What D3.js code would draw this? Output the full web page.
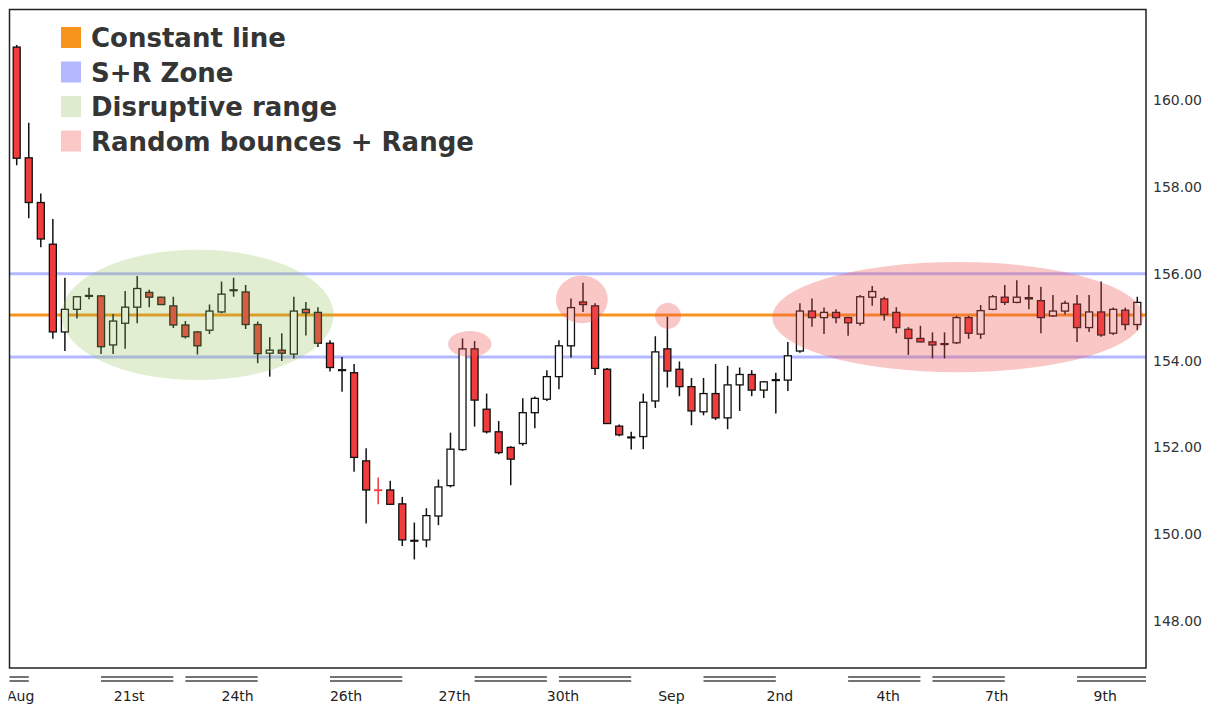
<!DOCTYPE html>
<html>
<head>
<meta charset="utf-8">
<script src="https://cdn.jsdelivr.net/npm/d3@7"></script>
<style>
  body { margin: 0; background: #fff; }
  svg text { font-family: "DejaVu Sans", sans-serif; }
</style>
</head>
<body>
<script>
// OHLC values, one per candle
var opens = [161.22,158.67,157.64,156.68,154.66,155.18,155.48,155.49,154.36,154.86,
  155.23,155.57,155.46,155.26,154.82,154.66,154.70,155.12,155.61,155.58,
  154.83,154.17,154.24,154.15,155.18,155.11,154.40,153.77,153.72,151.69,
  151.02,151.02,150.70,149.84,149.87,150.42,151.12,151.95,154.27,152.88,
  152.36,152.00,152.09,152.80,153.11,153.63,154.34,155.35,155.26,153.80,
  152.49,152.22,152.25,153.07,154.27,153.80,153.40,152.82,153.24,152.68,
  153.44,153.68,153.32,153.54,153.55,154.22,155.14,154.99,155.11,154.99,
  154.86,155.46,155.42,155.11,154.72,154.51,154.43,154.37,154.41,154.99,
  154.61,155.18,155.46,155.34,155.45,155.38,155.03,155.14,155.30,154.76,
  155.12,154.63,155.16,154.83];
var highs = [161.27,159.48,157.85,157.26,155.91,155.49,155.68,155.51,155.07,155.60,
  155.95,155.63,155.47,155.47,154.91,154.68,155.29,155.82,155.91,155.74,
  154.90,154.54,154.63,155.47,155.35,155.23,154.47,154.08,153.92,151.98,
  151.31,151.23,150.86,150.27,150.60,151.26,152.34,154.51,154.45,153.24,
  152.61,152.03,153.13,153.17,153.78,154.47,155.43,155.79,155.32,153.83,
  152.53,152.36,153.24,154.56,155.01,153.98,153.60,153.60,153.92,153.88,
  153.84,153.78,153.53,153.72,154.43,155.32,155.43,155.22,155.18,155.01,
  155.51,155.72,155.47,155.23,154.77,154.80,154.65,154.65,155.03,155.03,
  155.28,155.51,155.74,155.85,155.74,155.70,155.51,155.38,155.51,155.51,
  155.82,155.22,155.22,155.47];
var lows = [158.50,157.28,156.61,154.50,154.22,154.97,155.41,154.15,154.15,154.27,
  154.86,155.23,155.28,154.75,154.51,154.14,154.61,155.09,155.47,154.73,
  153.94,153.63,153.99,154.05,154.58,154.31,153.75,153.28,151.44,150.25,
  150.69,150.68,149.73,149.42,149.70,150.21,151.08,151.92,152.48,152.32,
  151.84,151.13,152.04,152.44,153.07,153.34,154.07,155.12,153.67,152.54,
  152.26,151.95,151.96,152.91,153.38,153.18,152.51,152.74,152.63,152.42,
  152.84,153.18,153.14,152.78,153.30,154.18,154.78,154.61,154.86,154.57,
  154.80,155.26,154.92,154.63,154.13,154.42,154.05,154.05,154.38,154.50,
  154.50,155.16,155.28,155.32,155.18,154.63,155.01,155.06,154.43,154.66,
  154.55,154.59,154.70,154.70];
var closes = [158.66,157.64,156.80,154.66,155.18,155.47,155.50,154.32,154.91,155.23,
  155.66,155.46,155.29,154.82,154.55,154.34,155.14,155.53,155.63,154.83,
  154.16,154.24,154.17,155.14,155.10,154.40,153.84,153.79,151.77,151.02,
  151.02,150.69,149.87,149.86,150.43,151.09,151.96,154.27,153.09,152.36,
  151.88,151.73,152.80,153.13,153.63,154.34,155.22,155.29,153.82,152.55,
  152.29,152.24,153.04,154.20,153.76,153.40,152.84,153.24,152.68,153.44,
  153.68,153.32,153.51,153.56,154.11,155.14,154.99,155.11,154.99,154.87,
  155.47,155.59,155.06,154.76,154.51,154.43,154.36,154.39,154.99,154.63,
  155.15,155.47,155.34,155.46,155.42,154.99,155.14,155.32,154.76,155.12,
  154.59,155.18,154.83,155.34];

// x axis: labels and the double-line session markers (candle indices)
var xLabels = ["Aug","21st","24th","26th","27th","30th","Sep","2nd","4th","7th","9th"];
var xLabelIdx = [0, 9, 18, 27, 36, 45, 54, 63, 72, 81, 90];
var sessionStart = [-1, 7, 14, 26, 38, 45, 57, 69, 76, 88];
var sessionEnd = [1, 13, 20, 32, 44, 51, 63, 75, 82, 94];

// y axis ticks
var yTicks = [148, 150, 152, 154, 156, 158, 160];

// horizontal levels
var constantLevel = 155.05;
var srLevels = [156.0, 154.08];

// highlighted zones: centre (candle index, price), radii (candles, price)
var zoneIdx = [15, 37.6, 46.9, 54.05, 78.1];
var zoneVal = [155.05, 154.38, 155.41, 155.03, 155.0];
var zoneRx = [11.3, 1.8, 2.15, 1.08, 15.4];
var zoneRy = [1.5, 0.3, 0.55, 0.3, 1.27];
var zoneType = ["green", "pink", "pink", "pink", "pink"];

// legend
var legendLabels = ["Constant line", "S+R Zone", "Disruptive range", "Random bounces + Range"];
var legendColors = ["#f7941d", "#b4b9ff", "#dfebcf", "#fcc7c7"];

var svgWidth = 1215, svgHeight = 707;
var plot = { left: 9.5, top: 9.5, right: 1146, bottom: 668 };

var candles = opens.map(function (o, i) {
  return { i: i, o: o, h: highs[i], l: lows[i], c: closes[i] };
});

var svg = d3.select("body").append("svg")
  .attr("width", svgWidth)
  .attr("height", svgHeight);

var x = d3.scaleLinear().domain([0, 93]).range([16.7, 1137.3]);
var y = d3.scaleLinear().domain([146.92, 162.12]).range([668, 8]);
var bodyW = (x(1) - x(0)) * 0.58;

var defs = svg.append("defs");
defs.append("clipPath").attr("id", "plotClip").append("rect")
  .attr("x", plot.left).attr("y", plot.top)
  .attr("width", plot.right - plot.left).attr("height", plot.bottom - plot.top);
defs.append("clipPath").attr("id", "axisClip").append("rect")
  .attr("x", 8.5).attr("y", plot.bottom)
  .attr("width", plot.right - 8.5).attr("height", svgHeight - plot.bottom);

var chart = svg.append("g").attr("clip-path", "url(#plotClip)");

// S+R lines
chart.selectAll(".sr")
  .data(srLevels)
  .enter()
  .append("line")
  .attr("x1", plot.left).attr("x2", plot.right)
  .attr("y1", d => y(d)).attr("y2", d => y(d))
  .attr("stroke", "#b4b9ff")
  .attr("stroke-width", 3);

// constant line
chart.append("line")
  .attr("x1", plot.left).attr("x2", plot.right)
  .attr("y1", y(constantLevel)).attr("y2", y(constantLevel))
  .attr("stroke", "#f7941d")
  .attr("stroke-width", 3);

// candles
var candle = chart.selectAll(".candle")
  .data(candles)
  .enter()
  .append("g")
  .attr("class", "candle");

function strokeOf(d) { return d.o === d.c ? "#f03c3c" : "#111"; }

candle.append("line")
  .attr("x1", d => x(d.i)).attr("x2", d => x(d.i))
  .attr("y1", d => y(d.h)).attr("y2", d => y(d.l))
  .attr("stroke", strokeOf)
  .attr("stroke-width", 1.5);

candle.append("rect")
  .attr("x", d => x(d.i) - bodyW / 2)
  .attr("y", d => y(Math.max(d.o, d.c)))
  .attr("width", bodyW)
  .attr("height", d => Math.max(0.5, Math.abs(y(d.o) - y(d.c))))
  .attr("fill", d => d.c < d.o || d.o === d.c ? "#f03c3c" : "#fff")
  .attr("stroke", strokeOf)
  .attr("stroke-width", 1.3);

// highlighted zones, drawn translucent over the candles
chart.selectAll(".zone")
  .data(zoneIdx)
  .enter()
  .append("ellipse")
  .attr("cx", d => x(d))
  .attr("cy", (d, i) => y(zoneVal[i]))
  .attr("rx", (d, i) => x(zoneRx[i]) - x(0))
  .attr("ry", (d, i) => y(0) - y(zoneRy[i]))
  .attr("fill", (d, i) => zoneType[i] == "green" ? "rgb(140,190,80)" : "rgb(240,80,80)")
  .attr("fill-opacity", (d, i) => zoneType[i] == "green" ? 0.26 : 0.32);

// frame
svg.append("rect")
  .attr("x", plot.left).attr("y", plot.top)
  .attr("width", plot.right - plot.left).attr("height", plot.bottom - plot.top)
  .attr("fill", "none")
  .attr("stroke", "#222")
  .attr("stroke-width", 1.5);

// y axis on the right
var rightAxis = d3.axisRight(y)
  .tickValues(yTicks)
  .tickFormat(d3.format(".2f"))
  .tickSize(0)
  .tickPadding(7);

var yAxisG = svg.append("g")
  .attr("transform", `translate(${plot.right},0)`)
  .call(rightAxis);
yAxisG.select(".domain").remove();
yAxisG.selectAll("text")
  .style("font-family", "DejaVu Sans, sans-serif")
  .style("font-size", "14px")
  .attr("fill", "#333");

// x axis: double session lines + day labels
var xAxisG = svg.append("g").attr("clip-path", "url(#axisClip)");

[677, 681].forEach(function (ly) {
  xAxisG.selectAll(null)
    .data(sessionStart)
    .enter()
    .append("line")
    .attr("x1", d => Math.max(plot.left, x(d)))
    .attr("x2", (d, i) => Math.min(plot.right, x(sessionEnd[i])))
    .attr("y1", ly).attr("y2", ly)
    .attr("stroke", "#444")
    .attr("stroke-width", 1.3);
});

xAxisG.selectAll(".xlabel")
  .data(xLabels)
  .enter()
  .append("text")
  .attr("x", (d, i) => x(xLabelIdx[i]) + 4)
  .attr("y", 701)
  .attr("text-anchor", "middle")
  .attr("font-size", "14px")
  .attr("fill", "#222")
  .text(d => d);

// legend
var legend = svg.append("g").attr("transform", "translate(61,27)");
var legendRow = legend.selectAll(".legendRow")
  .data(legendLabels)
  .enter()
  .append("g")
  .attr("transform", (d, i) => `translate(0,${i * 34.5})`);

legendRow.append("rect")
  .attr("width", 20).attr("height", 21)
  .attr("fill", (d, i) => legendColors[i]);

legendRow.append("text")
  .attr("x", 30)
  .attr("y", 20)
  .attr("font-size", "26px")
  .attr("font-weight", "bold")
  .attr("fill", "#353535")
  .text(d => d);
</script>
</body>
</html>
